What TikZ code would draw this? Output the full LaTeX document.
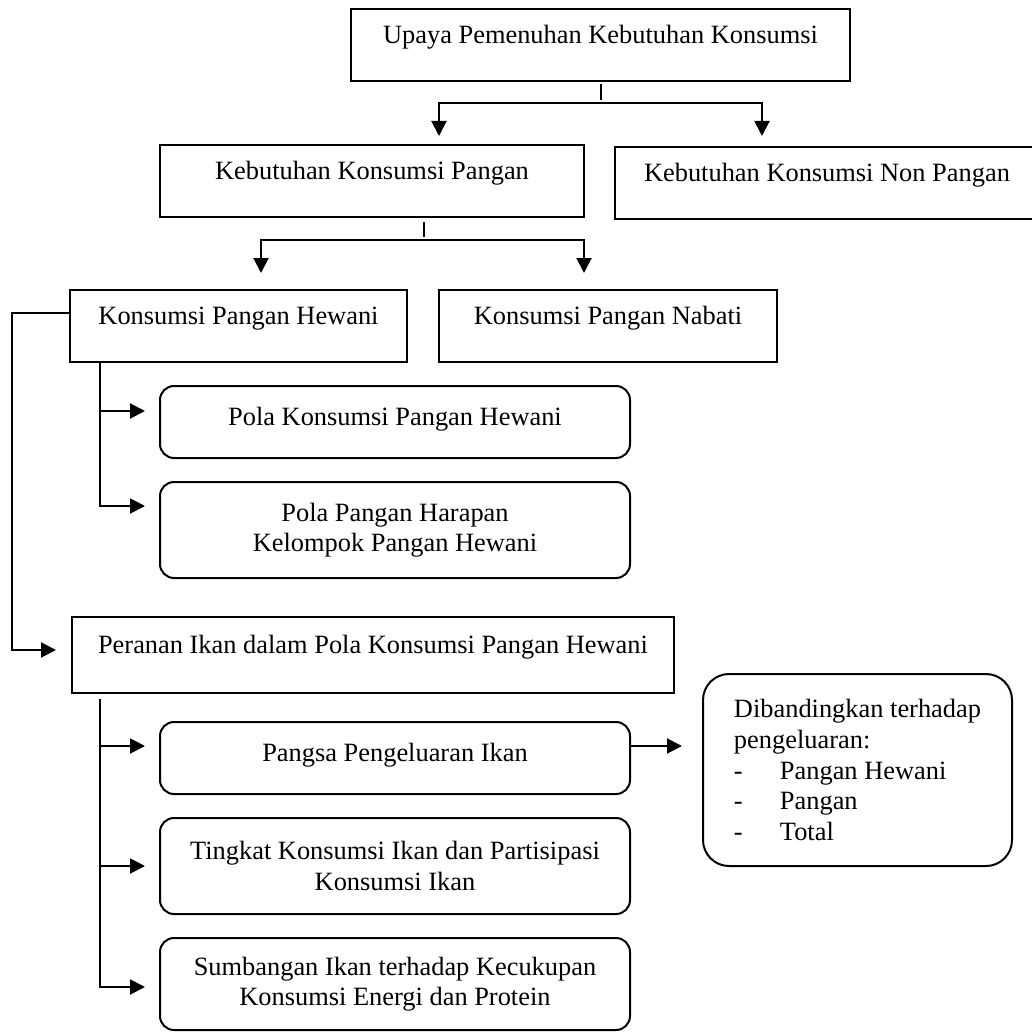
\documentclass[tikz,border=0pt]{standalone}
\usepackage{fontspec}
\setmainfont{Liberation Serif}
\usetikzlibrary{arrows.meta}
\newcommand{\butir}[1]{\makebox[23pt][l]{-}#1}

\begin{document}
\begin{tikzpicture}[x=0.5pt,y=-0.5pt,line width=1pt,
	font=\fontsize{13.2}{15.3}\selectfont,
	box/.style={draw,inner sep=0pt,text height=9pt,text depth=10.5pt},
	rbox/.style={draw,rounded corners=7pt,inner sep=0pt,align=center,minimum width=235pt},
	rone/.style={rbox,text height=9pt,text depth=6pt,minimum height=36pt},
	arr/.style={-{Triangle[length=7.5pt,width=7.5pt]}},
	arrr/.style={{Triangle[length=7.5pt,width=7.5pt]}-{Triangle[length=7.5pt,width=7.5pt]}}]
		\useasboundingbox (0,0) rectangle (1032,1032);
		\clip (0,0) rectangle (1032,1032);
		\node[box,minimum width=249.5pt,minimum height=36pt] (upaya) at (600.5,45) {Upaya Pemenuhan Kebutuhan Konsumsi};
		\node[box,minimum width=212pt,minimum height=36pt] (pangan) at (372,181) {Kebutuhan Konsumsi Pangan};
		\node[box,minimum width=212pt,minimum height=36pt] (nonpangan) at (827,183) {Kebutuhan Konsumsi Non Pangan};
		\node[box,minimum width=168.5pt,minimum height=36pt] (hewani) at (238.5,326) {Konsumsi Pangan Hewani};
		\node[box,minimum width=169pt,minimum height=36pt] (nabati) at (608,326) {Konsumsi Pangan Nabati};
		\node[rone] (polakons) at (395,422) {Pola Konsumsi Pangan Hewani};
		\node[rbox,minimum height=48pt] (pph) at (395,530) {Pola Pangan Harapan\\Kelompok Pangan Hewani};
		\node[box,minimum width=301pt,minimum height=38pt] (peranan) at (373,655) {Peranan Ikan dalam Pola Konsumsi Pangan Hewani};
		\node[rone] (pangsa) at (395,758) {Pangsa Pengeluaran Ikan};
		\node[rbox,minimum height=48pt] (tingkat) at (395,866) {Tingkat Konsumsi Ikan dan Partisipasi\\Konsumsi Ikan};
		\node[rbox,minimum height=46pt] (sumbangan) at (395,984) {Sumbangan Ikan terhadap Kecukupan\\Konsumsi Energi dan Protein};
		\node[draw,rounded corners=13pt,inner sep=0pt,align=left,minimum width=154.5pt,minimum height=96pt] (banding) at (857.5,770)
		{Dibandingkan terhadap\\pengeluaran:\\\butir{Pangan Hewani}\\\butir{Pangan}\\\butir{Total}};
		\draw (upaya.south) ++(0pt,-1pt) -- ++(0pt,-8pt);
		\coordinate (f1) at (439,103);
		\coordinate (f2) at (762,103);
		\draw[arrr,shorten <=4pt,shorten >=5pt] (f1 |- pangan.north) |- (f2) -- (f2 |- nonpangan.north);
		\draw ([xshift=26pt]pangan.south) ++(0pt,-2pt) -- ++(0pt,-7.5pt);
		\coordinate (g1) at (261,240);
		\coordinate (g2) at (584,240);
		\draw[arrr,shorten <=8pt,shorten >=8pt] (g1 |- hewani.north) |- (g2) -- (g2 |- nabati.north);
		\draw[arr] ([yshift=6.5pt]hewani.west) -- ++(-28.5pt,0pt) |- ([xshift=-7.5pt,yshift=2.5pt]peranan.west);
		\coordinate (h1) at ([xshift=15.5pt]hewani.south west);
		\coordinate (t1) at ([xshift=-7pt,yshift=5.5pt]polakons.west);
		\coordinate (t2) at ([xshift=-7pt,yshift=12pt]pph.west);
		\draw[arr] (h1) |- (t2);
		\draw[arr] (t1 -| h1) -- (t1);
		\coordinate (h2) at ([xshift=14.5pt,yshift=-2.5pt]peranan.south west);
		\coordinate (t3) at ([xshift=-7pt,yshift=6pt]pangsa.west);
		\coordinate (t4) at ([xshift=-7pt]tingkat.west);
		\coordinate (t5) at ([xshift=-7pt,yshift=-1.5pt]sumbangan.west);
		\draw[arr] (h2) |- (t5);
		\foreach \t in {t3,t4}
		\draw[arr] (\t -| h2) -- (\t);
		\coordinate (p1) at ([yshift=6pt]pangsa.east);
		\draw[arr,shorten >=10pt] (p1) -- (p1 -| banding.west);
\end{tikzpicture}
\end{document}
